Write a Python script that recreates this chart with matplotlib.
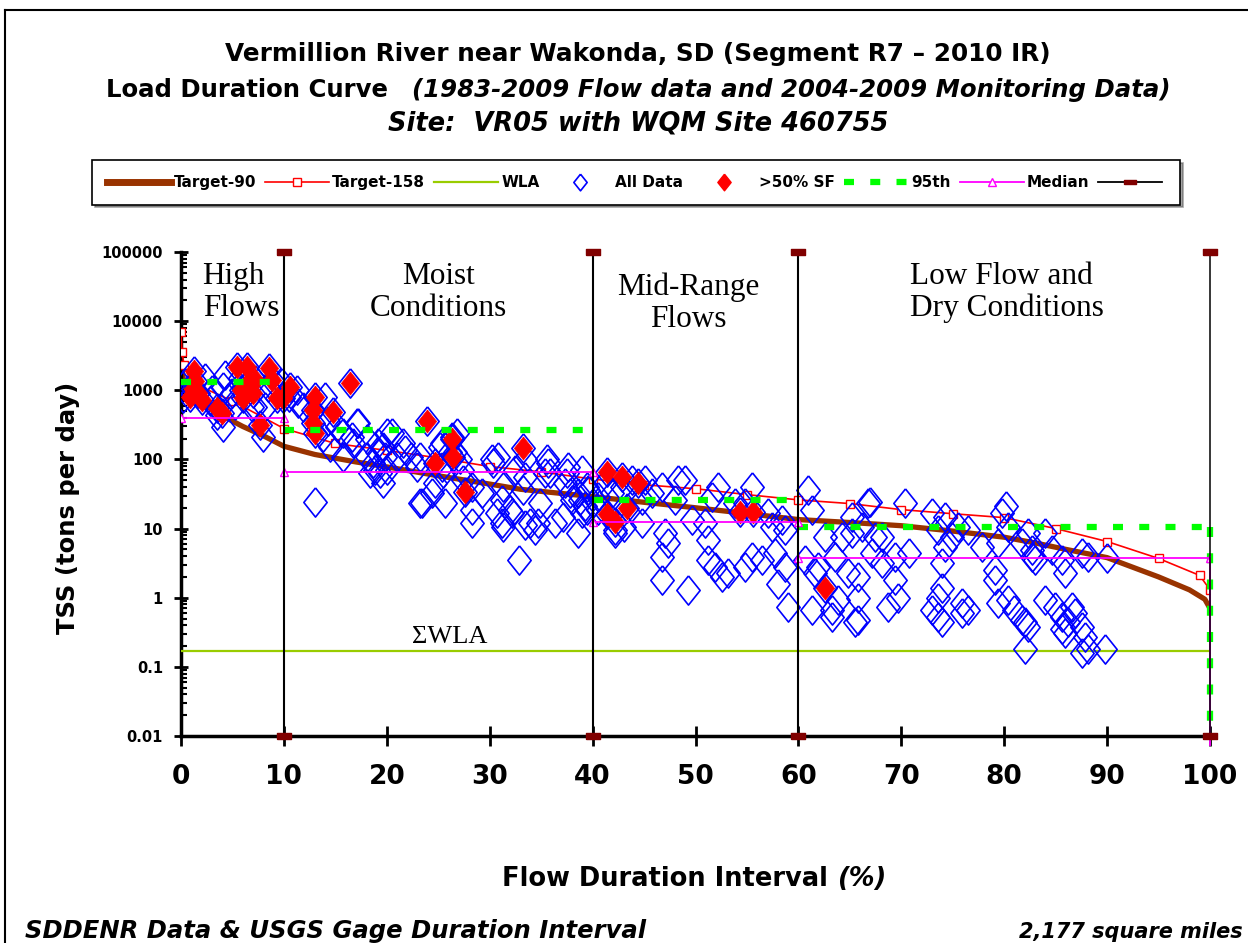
import matplotlib
matplotlib.use('Agg')
import matplotlib.pyplot as plt
import numpy as np
from matplotlib.lines import Line2D
from matplotlib.ticker import LogLocator, NullFormatter

W, H = 1248, 943

# ---- data ----
# Target-90 load duration curve (tons/day)
t90_x = [0, 0.3, 1, 2, 4, 6, 8, 10, 13, 17, 20, 25, 30, 33, 40, 45, 50, 55, 60, 66,
         70, 75, 80, 83, 86, 90, 95, 98, 99.5, 100]
t90_y = [2500, 1200, 800, 650, 430, 300, 220, 155, 118, 92, 78, 58, 44, 37, 29, 24, 20,
         16.5, 13.5, 12, 11, 9.2, 7.5, 6.2, 5.0, 3.8, 2.0, 1.3, 0.95, 0.7]
# Target-158 curve
t158_x = [0, 0.1, 0.3, 1, 5, 10, 15, 20, 25, 30, 35, 40, 45, 50, 55, 60, 65, 70, 75,
          80, 85, 90, 95, 99, 100]
t158_y = [7000, 3600, 2300, 1300, 700, 280, 170, 135, 105, 79, 66, 52, 43, 37.7, 31, 26,
          23, 18.8, 16.4, 14.4, 10, 6.5, 3.7, 2.1, 1.3]
wla = 0.167
# flow zones and per-zone statistics
zone_edges = [0, 10, 40, 60, 100]
p95_level = [1300, 270, 26, 10.5]
median_level = [400, 66, 12.5, 3.7]
zone_names = ['High\nFlows', 'Moist\nConditions', 'Mid-Range\nFlows', 'Low Flow and\nDry Conditions']

# samples collected at >50% storm flow (red)
sf_x = [1.3, 1.4, 1.2, 0.9, 2.0, 1.7, 4.0, 3.5, 5.4, 6.4, 7.2, 6.2, 6.0, 7.0, 6.6, 5.8,
        8.6, 8.8, 9.3, 9.9, 10.6, 7.7, 16.4, 13.0, 12.8, 14.8, 12.8, 13.0, 23.9, 26.3,
        26.4, 24.7, 27.6, 33.2, 41.4, 42.9, 44.4, 43.3, 41.4, 42.2, 54.3, 55.6, 62.6]
sf_y = [1900, 1350, 1050, 800, 720, 900, 470, 560, 2190, 2190, 1420, 1100, 780, 920, 1300,
        1000, 2130, 1420, 780, 780, 1120, 316, 1290, 810, 525, 490, 340, 245, 355, 195,
        110, 89, 34, 145, 66, 56, 46, 20, 16, 12.6, 17.5, 17.5, 1.4]

# remaining samples (blue)
obs_x = [0.2, 0.4, 0.8, 2.3, 3.0, 4.1, 4.3, 4.1, 3.5, 4.6, 5.2, 5.7, 6.9, 7.2, 8.2, 8.5,
         8.0, 9.8, 10.5, 11.3, 11.4, 11.9, 2.8, 5.0,
         13.0, 14.0, 14.3, 13.8, 15.2, 15.7, 14.5, 15.7, 17.1, 16.7, 17.2, 16.6, 18.1,
         19.0, 18.7, 19.6, 20.0, 19.3, 18.4, 18.9, 19.6, 19.1, 19.8, 20.5, 21.0, 21.6,
         21.8, 22.4, 20.0, 18.1, 22.9, 23.2, 23.4, 24.4, 25.7, 23.2, 24.7, 25.2, 25.4,
         26.3, 26.6, 25.5, 25.4, 26.1, 26.8, 27.1, 27.3, 27.4, 28.3, 28.3, 28.3, 29.3,
         30.3, 30.2, 30.8, 31.3, 31.2, 31.2, 32.2, 30.7, 31.3, 32.0, 32.5, 32.8,
         33.2, 33.4, 33.4, 33.4, 33.9, 34.4, 34.7, 34.9, 35.4, 35.7, 35.6, 35.9, 36.3,
         37.1, 37.3, 37.5, 37.6, 37.8, 38.0, 38.6, 38.6, 38.8, 39.0, 39.0, 39.3, 39.5,
         39.5, 39.6, 40.0, 40.5, 40.5, 41.2, 41.9, 42.2, 42.2, 42.9, 43.1, 43.8, 44.8,
         44.8, 45.1, 45.8, 46.7, 46.7, 46.7, 47.0, 47.3, 48.0, 48.3, 49.0, 49.3, 49.7,
         50.9, 51.2, 51.2, 51.6, 51.9, 52.2, 52.6, 53.2, 53.8, 54.8, 54.8, 55.5, 55.5,
         56.5, 57.0, 57.4, 57.7, 58.0, 58.4, 58.7, 58.7, 59.0, 60.9, 61.3, 60.6, 61.9,
         61.6, 61.3, 62.6, 63.3, 63.3, 63.6, 63.8, 64.2, 64.8, 65.2, 65.2, 65.5, 65.8,
         66.2, 66.8, 67.0, 67.2, 67.4, 68.1, 68.1, 68.7, 69.4, 69.4, 69.7, 70.4, 70.7,
         65.8, 65.8, 73.0, 73.0, 73.6, 73.6, 73.6, 74.0, 74.0, 74.0, 74.2, 74.2, 74.9,
         75.5, 75.9, 75.9, 76.5, 76.5, 77.8, 79.1, 79.1, 79.4, 79.4, 79.8, 80.2, 80.4,
         80.4, 81.0, 81.7, 81.7, 82.0, 82.3, 82.7,
         82.3, 82.7, 83.0, 84.0, 84.6, 85.6, 85.9, 87.6, 88.1, 90.0, 84.0, 84.9, 85.6,
         86.2, 86.9, 87.6, 85.9, 85.6, 87.9, 88.1, 89.8, 87.6, 86.6, 82.0]
obs_y = [780, 1290, 1000, 1520, 1000, 1120, 1670, 290, 445, 780, 620, 1520, 580, 580, 580,
         1100, 213, 1290, 800, 1020, 660, 580, 700, 900,
         24.5, 810, 355, 213, 297, 245, 152, 110, 340, 174, 340, 213, 195,
         126, 89, 152, 245, 64, 64, 71, 46, 174, 110, 245, 110, 174,
         138, 110, 71, 110, 79, 23.6, 23.6, 33, 23.6, 110, 46, 152, 174,
         213, 129, 64, 79, 126, 245, 100, 71, 51, 40, 18.7, 12, 33,
         89, 100, 110, 40, 26, 12, 17, 17, 10.7, 18.7, 71, 3.5,
         36, 100, 56, 11.4, 12, 9.6, 12, 23.6, 64, 89, 100, 64, 12,
         14.8, 46, 64, 79, 33, 26, 33, 8.7, 26, 71, 17, 21, 18.7,
         40, 36, 23.6, 29, 18.7, 46, 33, 9.6, 8.7, 40, 10.7, 51, 26,
         12, 51, 33, 40, 3.9, 1.8, 8.7, 6.2, 26, 51, 51, 1.3, 13.5,
         12, 6.9, 3.5, 29, 2.8, 40, 2.0, 2.3, 23.6, 23.6, 2.8, 40, 3.9,
         3.5, 17, 10.7, 4.5, 1.6, 13.5, 9.6, 2.8, 0.74, 36, 18.7, 3.5, 2.8,
         2.3, 0.67, 7.6, 0.53, 0.67, 3.9, 0.94, 7.6, 2.3, 8.7, 14.8, 0.44, 1.0,
         10.7, 23.6, 24, 4.5, 7.6, 3.2, 7.6, 0.74, 3.9, 1.8, 1.0, 23.6, 4.5,
         2.0, 0.48, 17, 0.67, 9.6, 1.0, 0.53, 3.2, 1.4, 0.44, 14.8, 5.5, 7.6,
         10.7, 0.6, 0.85, 9.6, 0.67, 5.5, 2.5, 1.8, 6.2, 0.85, 17, 21, 10.7,
         0.94, 0.67, 6.2, 0.48, 0.18, 0.38, 3.9,
         8.7, 4.9, 3.5, 8.7, 4.9, 3.5, 2.3, 4.5, 3.9, 3.8, 0.94, 0.74, 0.53,
         0.44, 0.6, 0.38, 0.31, 0.35, 0.27, 0.18, 0.18, 0.16, 0.74, 0.44]

yticks = [0.01, 0.1, 1, 10, 100, 1000, 10000, 100000]
ytick_labels = ['0.01', '0.1', '1', '10', '100', '1000', '10000', '100000']
xticks = [0, 10, 20, 30, 40, 50, 60, 70, 80, 90, 100]

# ---- styles ----
brown = '#993300'
green = '#00FF00'
wla_col = '#99CC00'
darkred = '#800000'
diamond = [(0, 1), (0.8, 0), (0, -1), (-0.8, 0), (0, 1)]
bar_mk = [(-1, -0.4), (1, -0.4), (1, 0.4), (-1, 0.4), (-1, -0.4)]

fig = plt.figure(figsize=(W / 100, H / 100), dpi=100)
ax = fig.add_axes([181 / W, 1 - 736 / H, (1210 - 181) / W, (736 - 252) / H])
ax.set_yscale('log')

ax.plot(t90_x, t90_y, color=brown, lw=3.8, zorder=2, solid_capstyle='butt')
ax.plot(t158_x, t158_y, color='red', lw=1.2, marker='s', ms=6, mfc='white',
        mec='red', mew=1.0, zorder=3)
ax.plot([0, 100], [wla, wla], color=wla_col, lw=1.6, zorder=3)

all_x = obs_x + sf_x
all_y = obs_y + sf_y
ax.plot(all_x, all_y, ls='none', marker=diamond, ms=21, mfc='none', mec='blue',
        mew=1.2, zorder=4)
ax.plot(sf_x, sf_y, ls='none', marker=diamond, ms=16.5, mfc='red', mec='red',
        mew=0.5, zorder=5)

for i in range(len(p95_level)):
    ax.plot([zone_edges[i], zone_edges[i + 1]], [p95_level[i]] * 2, color=green,
            lw=4.5, dashes=(1.6, 2.6), zorder=6)
ax.plot([100, 100], [p95_level[-1], 0.01], color=green, lw=4.5, dashes=(1.6, 2.6),
        zorder=6, clip_on=False)

mx, my = [], []
for i in range(len(median_level)):
    mx += [zone_edges[i], zone_edges[i + 1]]
    my += [median_level[i]] * 2
ax.plot(mx, my, color='magenta', lw=1.3, marker='^', ms=6, mfc='white',
        mec='magenta', mew=1.0, zorder=7)
ax.plot([100, 100], [median_level[-1], 0.0075], color='magenta', lw=1.3, zorder=7,
        clip_on=False)

for xb in zone_edges[1:]:
    ax.plot([xb, xb], [0.01, 100000], color='black', lw=1.5 if xb < 100 else 1.1,
            marker=bar_mk, ms=10, mfc=darkred, mec=darkred, zorder=8, clip_on=False)

# zone labels
zone_pos = [(2.1, 72000, 'left'), (25.0, 72000, 'center'), (49.3, 50000, 'center'),
            (70.8, 72000, 'left')]
for name, (zx, zy, ha) in zip(zone_names, zone_pos):
    ax.text(zx, zy, name, ha=ha, va='top', fontsize=22.5, family='Liberation Serif',
            linespacing=1.12, multialignment=ha, zorder=9)
ax.text(26.1, 0.19, '\u03a3WLA', ha='center', va='bottom', fontsize=19,
        family='Liberation Serif', zorder=9)

ax.set_xlim(0, 100)
ax.set_ylim(0.01, 100000)
ax.set_xticks(xticks)
ax.set_xticklabels([str(v) for v in xticks])
ax.set_yticks(yticks)
ax.set_yticklabels(ytick_labels)
ax.yaxis.set_minor_locator(LogLocator(base=10, subs=range(2, 10), numticks=20))
ax.yaxis.set_minor_formatter(NullFormatter())
ax.tick_params(axis='x', direction='inout', length=14, width=2, labelsize=19, pad=13)
ax.tick_params(axis='y', which='major', direction='inout', length=10, width=2,
               labelsize=10.5, pad=8)
ax.tick_params(axis='y', which='minor', direction='in', length=4, width=1.5)
for lab in ax.get_xticklabels() + ax.get_yticklabels():
    lab.set_fontweight('bold')
for s in ['top', 'right']:
    ax.spines[s].set_visible(False)
for s in ['left', 'bottom']:
    ax.spines[s].set_linewidth(2.5)

# legend
handles = [
    Line2D([], [], color=brown, lw=5),
    Line2D([], [], color='red', lw=1.2, marker='s', ms=6, mfc='white', mec='red'),
    Line2D([], [], color=wla_col, lw=1.6),
    Line2D([], [], ls='none', marker=diamond, ms=12, mfc='none', mec='blue', mew=1.2),
    Line2D([], [], ls='none', marker=diamond, ms=12, mfc='red', mec='red'),
    Line2D([], [], color=green, lw=4.5, dashes=(1.6, 2.6)),
    Line2D([], [], color='magenta', lw=1.3, marker='^', ms=6, mfc='white', mec='magenta'),
    Line2D([], [], color='black', lw=1.3, marker=bar_mk, ms=8, mfc=darkred, mec=darkred),
]
labels = ['Target-90', 'Target-158', 'WLA', 'All Data', '>50% SF', '95th', 'Median', '']
leg = fig.legend(handles, labels, loc='center', ncol=8, mode='expand',
                 bbox_to_anchor=(92 / W, 1 - 205 / H, 1088 / W, 45 / H),
                 prop={'weight': 'bold', 'size': 11}, handlelength=4.2,
                 handletextpad=0.2, columnspacing=0.6, frameon=True, fancybox=False,
                 shadow=True, borderpad=0.95, borderaxespad=0)
leg.get_frame().set_edgecolor('black')
leg.get_frame().set_linewidth(1.2)


def mixed_line(parts, cx, base_y, size):
    """place text segments of different styles side by side, centred at cx (px)"""
    items = []
    for s, st, gap in parts:
        t = fig.text(0, 0, s, fontsize=size, fontweight='bold', style=st,
                     va='baseline', ha='left')
        items.append((t, gap))
    fig.canvas.draw()
    r = fig.canvas.get_renderer()
    widths = [t.get_window_extent(r).width for t, g in items]
    total = sum(widths) + sum(g for t, g in items)
    x0 = cx - total / 2
    for (t, g), w in zip(items, widths):
        x0 += g
        t.set_position((x0 / W, 1 - base_y / H))
        x0 += w


mixed_line([('Vermillion River near Wakonda, SD (Segment R7 \u2013 2010 IR)', 'normal', 0)],
           638, 61, 17.8)
mixed_line([('Load Duration Curve', 'normal', 0),
            ('(1983-2009 Flow data and 2004-2009 Monitoring Data)', 'italic', 24)],
           638, 97, 17.6)
mixed_line([('Site:  VR05 with WQM Site 460755', 'italic', 0)], 638, 130, 18.5)

fig.text(68 / W, 1 - 508 / H, 'TSS (tons per day)', rotation=90, ha='center',
         va='center', fontsize=17.5, fontweight='bold')
mixed_line([('Flow Duration Interval', 'normal', 0), ('(%)', 'italic', 9)],
           694, 886, 18.5)
fig.text(25 / W, 1 - 938 / H, 'SDDENR Data & USGS Gage Duration Interval',
         fontsize=17.5, fontweight='bold', style='italic', ha='left', va='baseline')
fig.text(1243 / W, 1 - 938 / H, '2,177 square miles', fontsize=15,
         fontweight='bold', style='italic', ha='right', va='baseline')

# outer chart frame (cut off at right and bottom)
fig.add_artist(Line2D([5 / W, 1.0], [1 - 10 / H, 1 - 10 / H], color='black', lw=1.5,
                      transform=fig.transFigure))
fig.add_artist(Line2D([5 / W, 5 / W], [1 - 10 / H, 0.0], color='black', lw=1.5,
                      transform=fig.transFigure))

fig.savefig('out.png', dpi=100)
